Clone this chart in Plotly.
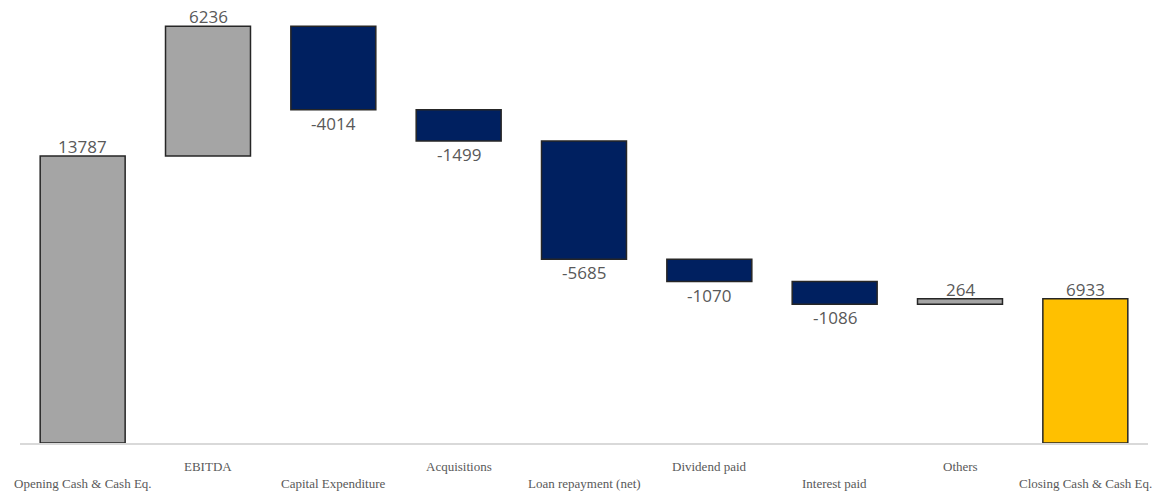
import plotly.graph_objects as go

categories = ["Opening Cash & Cash Eq.", "EBITDA", "Capital Expenditure", "Acquisitions",
              "Loan repayment (net)", "Dividend paid", "Interest paid", "Others",
              "Closing Cash & Cash Eq."]
values = [13787, 6236, -4014, -1499, -5685, -1070, -1086, 264, 6933]
measures = ["absolute", "relative", "relative", "relative", "relative",
            "relative", "relative", "relative", "total"]

GRAY = "#A5A5A5"
NAVY = "#002060"
YELLOW = "#FFC000"

bases, heights, colors, tops, bottoms = [], [], [], [], []
running = 0
for v, m in zip(values, measures):
    if m == "absolute":
        b, h = 0, v
        running = v
        c = GRAY
    elif m == "total":
        b, h = 0, running
        c = YELLOW
    else:
        b, h = running, v
        running += v
        c = GRAY if v >= 0 else NAVY
    bases.append(b)
    heights.append(h)
    colors.append(c)
    tops.append(max(b, b + h))
    bottoms.append(min(b, b + h))

fig = go.Figure(go.Bar(
    x=categories, y=heights, base=bases,
    marker=dict(color=colors, line=dict(color="#262626", width=1.5)),
    hoverinfo="skip",
))

annotations = []
for i, (cat, v, m) in enumerate(zip(categories, values, measures)):
    if v >= 0 or m != "relative":
        annotations.append(dict(x=cat, y=tops[i], xref="x", yref="y", text=str(v),
                                showarrow=False, yanchor="bottom", yshift=-4,
                                font=dict(family="Open Sans", size=17, color="#595959")))
    else:
        annotations.append(dict(x=cat, y=bottoms[i], xref="x", yref="y", text=str(v),
                                showarrow=False, yanchor="top", yshift=0,
                                font=dict(family="Open Sans", size=17, color="#595959")))
    annotations.append(dict(x=cat, y=0, xref="x", yref="paper", text=cat, showarrow=False,
                            yanchor="middle", yshift=(-40 if i % 2 == 0 else -23),
                            font=dict(family="Liberation Serif", size=13, color="#595959")))

fig.update_layout(
    width=1164, height=492,
    margin=dict(l=20, r=16, t=0, b=49),
    paper_bgcolor="white", plot_bgcolor="white",
    bargap=0.322,
    showlegend=False,
    annotations=annotations,
    xaxis=dict(showticklabels=False, showgrid=False, showline=True,
               linecolor="#d9d9d9", linewidth=2, ticks="",
               range=[-0.5, len(categories) - 0.5]),
    yaxis=dict(range=[0, 21280], visible=False, showgrid=False, zeroline=False),
)

fig.write_html("out.html")
